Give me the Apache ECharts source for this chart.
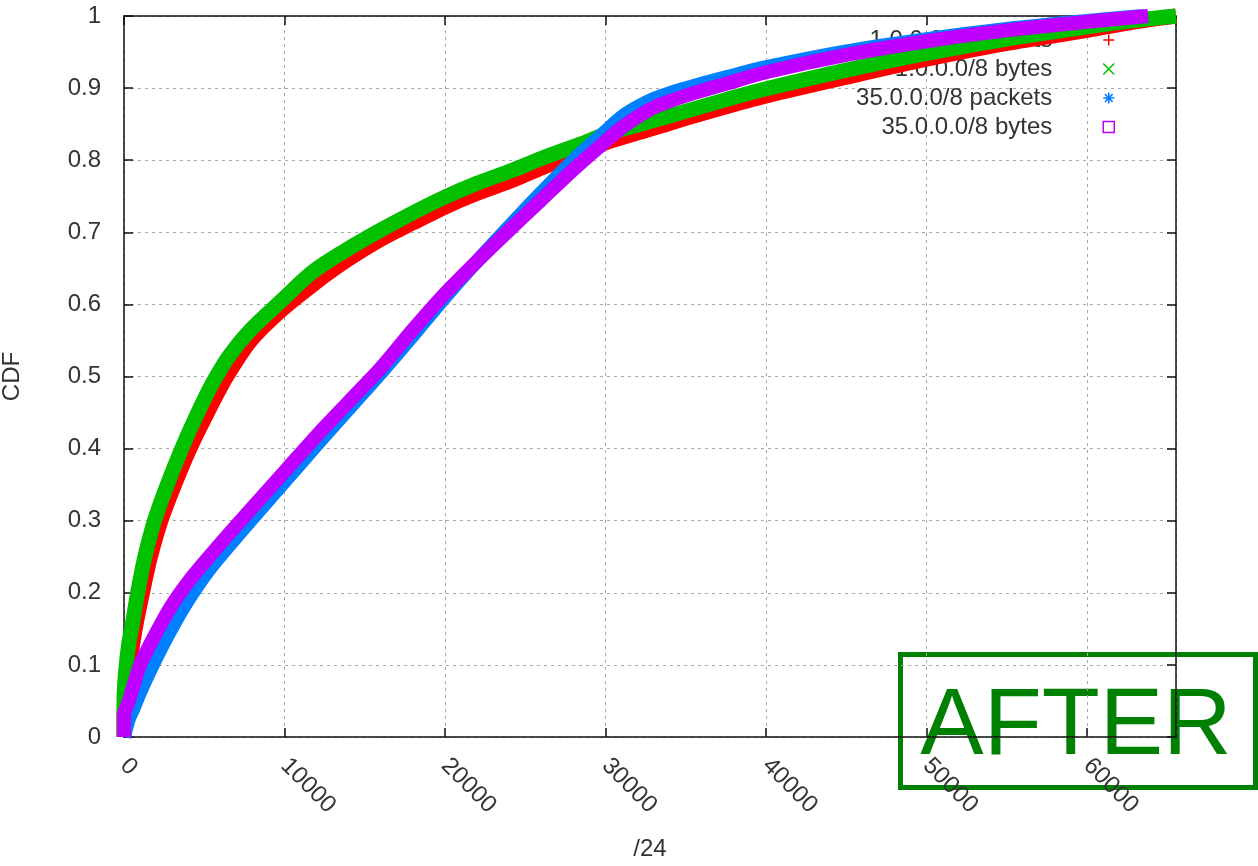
<!DOCTYPE html>
<html>
<head>
<meta charset="utf-8">
<script src="https://cdn.jsdelivr.net/npm/echarts@6/dist/echarts.min.js"></script>
<style>html,body{margin:0;padding:0;background:#fff}#c{width:1258px;height:866px}</style>
</head>
<body>
<div id="c"></div>
<script>
// ---- data ----
const seriesNames = ['1.0.0.0/8 packets', '1.0.0.0/8 bytes', '35.0.0.0/8 packets', '35.0.0.0/8 bytes'];
const seriesColors = ['#ff0000', '#00c000', '#0080ff', '#c000ff'];
const xTicks = [0, 10000, 20000, 30000, 40000, 50000, 60000];
const yTicks = [0, 0.1, 0.2, 0.3, 0.4, 0.5, 0.6, 0.7, 0.8, 0.9, 1];

const net1Packets = [[0,0],[0,0.03],[120,0.06],[350,0.1],[700,0.15],[1150,0.2],[1650,0.25],[2300,0.3],[3150,0.35],[4100,0.4],[5200,0.45],[6400,0.5],[7900,0.55],[9700,0.59],[11750,0.627],[13800,0.66],[15900,0.689],[18000,0.713],[20000,0.735],[22000,0.754],[24200,0.772],[26300,0.792],[28400,0.81],[30000,0.824],[32500,0.841],[35000,0.858],[37500,0.874],[40000,0.889],[45000,0.915],[50000,0.94],[55000,0.962],[60000,0.98],[63000,0.992],[65536,1.0]];
const net1Bytes = [[0,0],[0,0.05],[100,0.09],[300,0.13],[550,0.16],[850,0.2],[1300,0.25],[1900,0.3],[2700,0.35],[3600,0.4],[4500,0.445],[5500,0.49],[6600,0.53],[7900,0.565],[9800,0.605],[11750,0.645],[13800,0.675],[15900,0.702],[18000,0.727],[20000,0.749],[22000,0.768],[24200,0.786],[26300,0.805],[28400,0.822],[30000,0.836],[32500,0.852],[35000,0.868],[37500,0.884],[40000,0.899],[45000,0.925],[50000,0.948],[55000,0.968],[60000,0.985],[63000,0.994],[65536,1.0]];
const net35Packets = [[0,0],[300,0.025],[600,0.04],[1000,0.062],[1900,0.105],[2900,0.148],[4000,0.19],[5300,0.232],[7100,0.28],[10000,0.354],[12000,0.405],[14000,0.455],[16000,0.505],[18000,0.557],[20000,0.61],[22000,0.66],[24000,0.708],[26000,0.755],[28000,0.8],[30000,0.84],[31000,0.86],[32000,0.874],[33000,0.885],[34000,0.893],[35500,0.903],[37500,0.915],[40000,0.929],[45000,0.951],[50000,0.968],[55000,0.982],[60000,0.993],[63500,1.0]];
const net35Bytes = [[0,0],[0,0.03],[300,0.05],[600,0.072],[1000,0.1],[1900,0.14],[2900,0.18],[4000,0.215],[5300,0.25],[7100,0.296],[10000,0.368],[12000,0.418],[14000,0.465],[16000,0.512],[18000,0.565],[20000,0.615],[22000,0.66],[24000,0.703],[26000,0.745],[28000,0.787],[30000,0.826],[31000,0.845],[32000,0.86],[33000,0.873],[34000,0.882],[35500,0.893],[37500,0.906],[40000,0.922],[45000,0.946],[50000,0.965],[55000,0.98],[60000,0.992],[63800,1.0]];
const seriesData = [net1Packets, net1Bytes, net35Packets, net35Bytes];
const xMax = 65536;
const legendIcons = [
  'path://M5,0L5,10M0,5L10,5',
  'path://M0,0L10,10M10,0L0,10',
  'path://M5,0L5,10M0,5L10,5M1.5,1.5L8.5,8.5M8.5,1.5L1.5,8.5',
  'path://M0,0L10,0L10,10L0,10Z'
];
const stampText = 'AFTER';

// ---- chart ----
const FONT = 'Liberation Sans';
const TXT = '#333';
const chart = echarts.init(document.getElementById('c'), null, {renderer: 'canvas'});
const gridLine = {show: true, lineStyle: {color: '#a8a8a8', width: 1, type: [3, 4]}};
const axisLineStyle = {show: true, onZero: false, lineStyle: {color: '#111', width: 1.5}};
const tickStyle = {show: true, inside: true, length: 9, lineStyle: {color: '#111', width: 1.5}};
const rowTop = [28, 57, 86, 115];
const lineWidths = [15, 15, 14, 14];

const option = {
  animation: false,
  backgroundColor: '#fff',
  textStyle: {fontFamily: FONT},
  grid: {left: 124, right: 82, top: 16, bottom: 129, containLabel: false, outerBoundsMode: 'none'},
  xAxis: [{
    type: 'value', min: 0, max: xMax, interval: 10000,
    name: '/24', nameLocation: 'middle', nameGap: 100,
    nameTextStyle: {fontSize: 24, color: TXT, fontFamily: FONT},
    axisLine: axisLineStyle, axisTick: tickStyle,
    axisLabel: {rotate: -45, margin: 25, fontSize: 24, color: TXT, fontFamily: FONT, showMaxLabel: false,
      formatter: v => (xTicks.indexOf(v) >= 0 ? String(v) : '')},
    splitLine: gridLine
  }, {
    type: 'value', position: 'top', min: 0, max: xMax, interval: 10000,
    axisLine: axisLineStyle, axisTick: tickStyle,
    axisLabel: {show: false}, splitLine: {show: false}
  }],
  yAxis: [{
    type: 'value', min: 0, max: 1, interval: 0.1,
    name: 'CDF', nameLocation: 'middle', nameGap: 100, nameRotate: 90,
    nameTextStyle: {fontSize: 24, color: TXT, fontFamily: FONT},
    axisLine: axisLineStyle, axisTick: tickStyle,
    axisLabel: {margin: 23, fontSize: 24, color: TXT, fontFamily: FONT,
      formatter: v => { const t = yTicks.find(k => Math.abs(k - v) < 1e-9); return t === undefined ? '' : String(t); }},
    splitLine: gridLine
  }, {
    type: 'value', position: 'right', min: 0, max: 1, interval: 0.1,
    axisLine: axisLineStyle, axisTick: tickStyle,
    axisLabel: {show: false}, splitLine: {show: false}
  }],
  legend: seriesNames.map((n, i) => ({
    data: [{name: n, icon: legendIcons[i],
      itemStyle: {color: 'rgba(0,0,0,0)', borderColor: seriesColors[i], borderWidth: 1.5}}],
    orient: 'vertical', right: 143, top: rowTop[i], align: 'right', padding: 0,
    itemWidth: 11, itemHeight: 11, selectedMode: false, z: 1,
    textStyle: {fontSize: 24, color: TXT, fontFamily: FONT, padding: [0, 46, 0, 0]}
  })),
  series: seriesNames.map((n, i) => ({
    name: n, type: 'line', data: seriesData[i], xAxisIndex: 0, yAxisIndex: 0,
    showSymbol: false, symbol: 'none', smooth: 0.3, clip: false, z: 2 + i,
    color: seriesColors[i],
    lineStyle: {color: seriesColors[i], width: lineWidths[i], cap: 'butt', join: 'round'},
    emphasis: {disabled: true}, silent: true
  })),
  graphic: [{
    type: 'group', z: 100, children: [
      {type: 'rect', shape: {x: 900.5, y: 654.5, width: 355, height: 133},
       style: {fill: '#fff', stroke: '#008000', lineWidth: 5}},
      {type: 'text', x: 1076, y: 728,
       style: {text: stampText, fill: '#008000', font: '95px "Liberation Sans"', align: 'center', verticalAlign: 'middle'}}
    ]
  }]
};
chart.setOption(option);
</script>
</body>
</html>
